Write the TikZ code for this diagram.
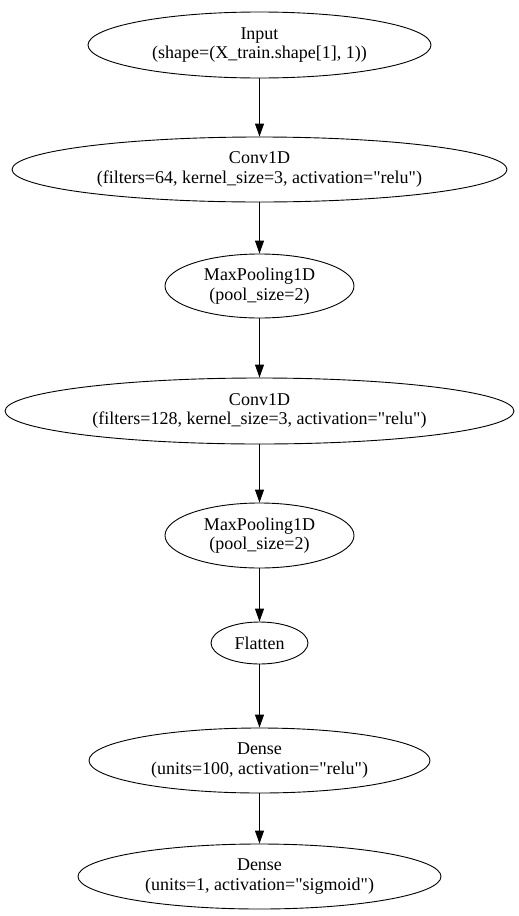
\documentclass[tikz,border=0pt]{standalone}
\usepackage{fontspec}
\setmainfont[Ligatures=TeXOff]{Liberation Serif}
\usetikzlibrary{shapes.geometric,arrows.meta}
\begin{document}
\begin{tikzpicture}[x=1pt,y=-1pt,
  layer/.style={draw,ellipse,inner sep=0pt,align=center,line width=0.9pt,
    font=\fontsize{18}{19.5}\selectfont},
  conn/.style={-{Triangle[length=13pt,width=9pt]},line width=0.9pt}]
\useasboundingbox (0,0) rectangle (519,916);
\node[layer,minimum width=343pt,minimum height=66pt] (in) at (259.5,45) {Input\\(shape=(X\_train.shape[1], 1))};
\node[layer,minimum width=495pt,minimum height=65pt] (c1) at (259.5,169.5) {Conv1D\\(filters=64, kernel\_size=3, activation="relu")};
\node[layer,minimum width=189pt,minimum height=64pt] (p1) at (259.5,286) {MaxPooling1D\\(pool\_size=2)};
\node[layer,minimum width=509pt,minimum height=66pt] (c2) at (259.5,411) {Conv1D\\(filters=128, kernel\_size=3, activation="relu")};
\node[layer,minimum width=189pt,minimum height=65pt] (p2) at (259.5,535.5) {MaxPooling1D\\(pool\_size=2)};
\node[layer,minimum width=97pt,minimum height=42pt] (fl) at (259.5,643) {Flatten};
\node[layer,minimum width=341pt,minimum height=65pt] (d1) at (259.5,760.5) {Dense\\(units=100, activation="relu")};
\node[layer,minimum width=363pt,minimum height=65pt] (d2) at (259.5,876.5) {Dense\\(units=1, activation="sigmoid")};
\draw[conn] (in) -- (c1);
\draw[conn] (c1) -- (p1);
\draw[conn] (p1) -- (c2);
\draw[conn] (c2) -- (p2);
\draw[conn] (p2) -- (fl);
\draw[conn] (fl) -- (d1);
\draw[conn] (d1) -- (d2);
\end{tikzpicture}
\end{document}
